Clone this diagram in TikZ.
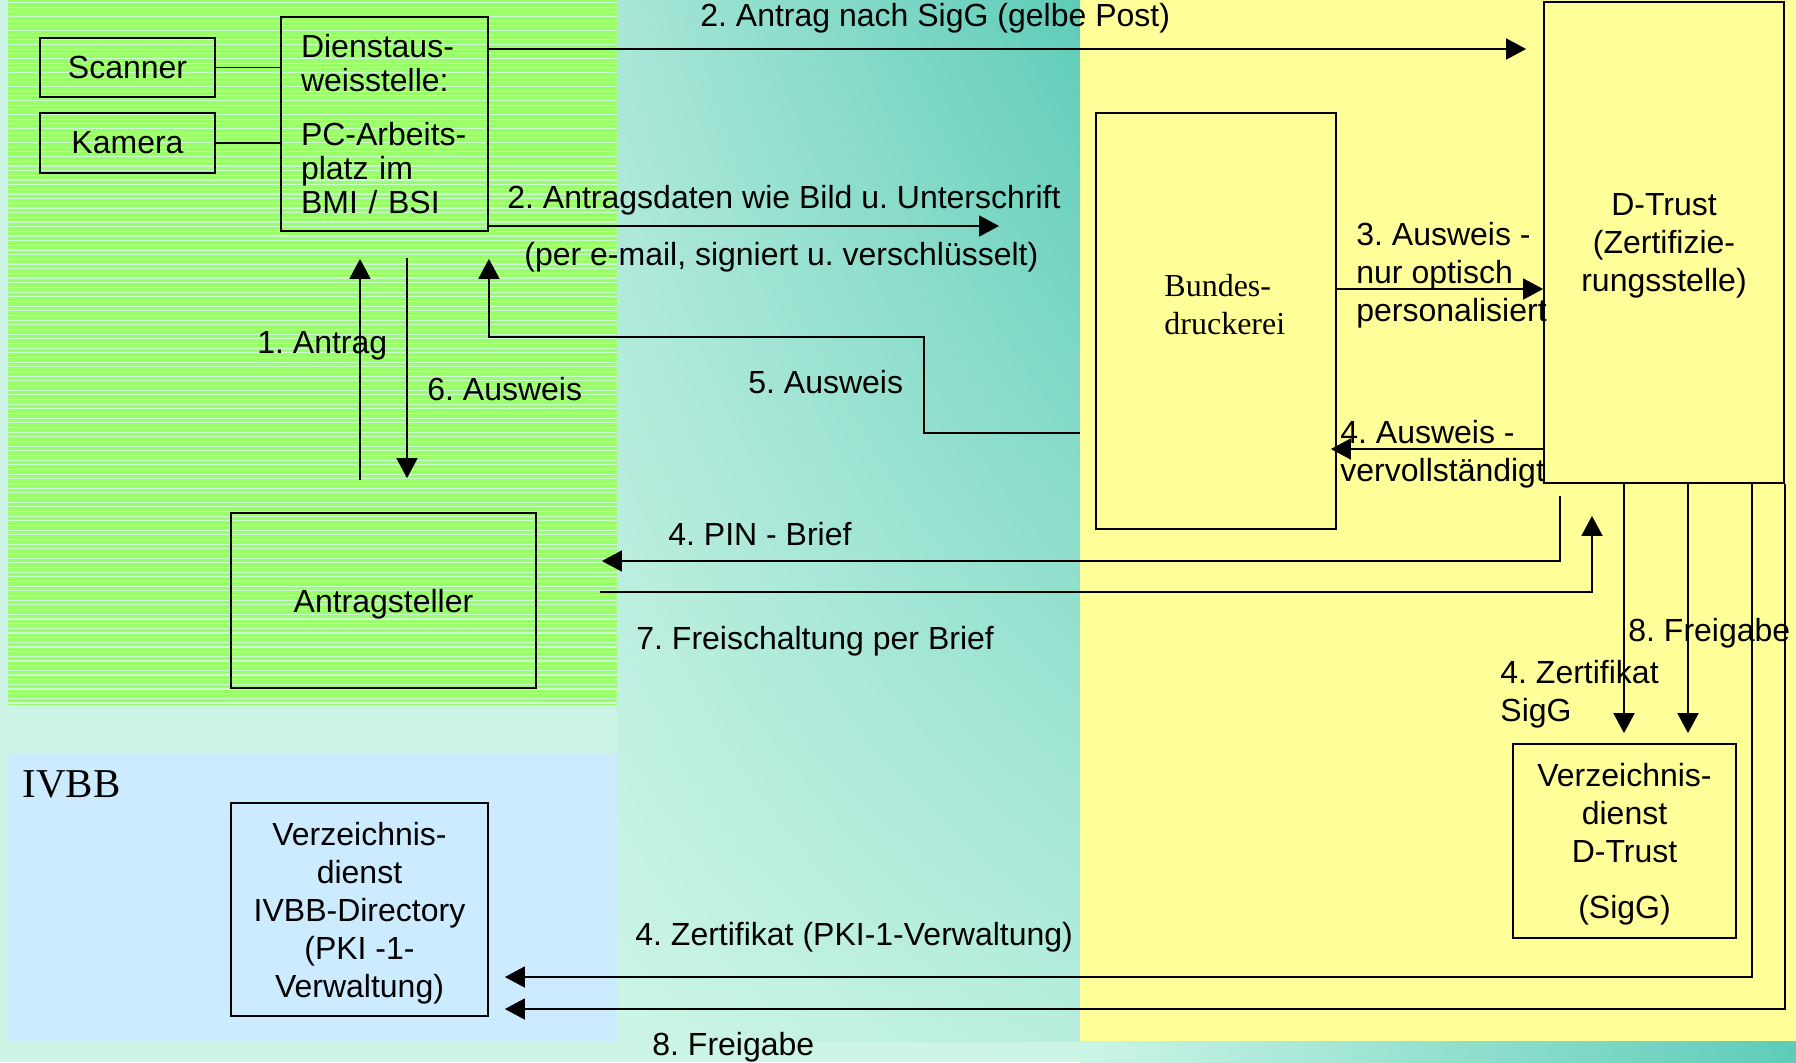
\documentclass[tikz,border=0pt]{standalone}
\usepackage{fontspec}
\setmainfont{Liberation Sans}
\newfontfamily\timesfont{Liberation Serif}
\usetikzlibrary{arrows.meta, shadings}
\frenchspacing
\definecolor{mint}{HTML}{CCF5E6}
\definecolor{tealbg}{HTML}{5ECCB8}
\definecolor{tealtop}{HTML}{A8E6D6}
\definecolor{tealbot}{HTML}{B8EEDE}
\definecolor{greenbg}{HTML}{99FF66}
\definecolor{stripe}{HTML}{CCF8D6}
\definecolor{yellowbg}{HTML}{FFFF99}
\definecolor{bluebg}{HTML}{CCEBFF}
\tikzstyle{line} = [draw, line width=0.9pt, -{Triangle[length=10pt,width=10.5pt]}]
\tikzstyle{plain} = [draw, line width=0.9pt]
\tikzstyle{block} = [draw, rectangle, line width=0.9pt, inner sep=0pt]
\tikzstyle{lbl} = [inner sep=0pt, anchor=base west]
\tikzstyle{lbls} = [inner sep=0pt, anchor=west, align=left]

\begin{document}
\begin{tikzpicture}[x=0.5pt, y=-0.5pt, every node/.style={font=\fontsize{16}{19}\selectfont}]
		\useasboundingbox (0,0) rectangle (1796,1062);
		\fill[mint] (0,0) rectangle (1796,1062);
		\shade[upper left=tealtop, upper right=tealbg, lower left=mint, lower right=tealbot] (617,0) rectangle (1080,1041);
		\shade[left color=mint, right color=tealbg] (1080,1041) rectangle (1796,1062);
		\fill[greenbg] (8,0) rectangle (617,705);
		\foreach \y in {2.5,7.17,...,704} \draw[stripe, line width=0.55pt] (8,\y) -- (617,\y);
		\fill[bluebg] (8,753) rectangle (617,1041);
		\fill[yellowbg] (1080,0) rectangle (1796,1041);

		\node[block, minimum width=87.5pt, minimum height=29.5pt] (Scan) at (127.5,67.5) {Scanner};
		\node[block, minimum width=87.5pt, minimum height=30pt] (Kam) at (127.5,143) {Kamera};
		\node[block, minimum width=103.5pt, minimum height=107pt, text width=83.5pt, inner xsep=10pt, align=left, font=\fontsize{16}{17}\selectfont] (DA) at (384.5,124) {Dienstaus-\\weisstelle:\\[10pt]PC-Arbeits-\\platz im\\BMI / BSI};
		\node[block, minimum width=152.5pt, minimum height=87.5pt, text depth=0pt] (AS) at (383.5,600.5) {Antragsteller};
		\node[block, minimum width=120pt, minimum height=208pt] (BD) at (1216,321) {};
		\node[lbls, font=\timesfont\fontsize{16}{19}\selectfont] (BDtxt) at (1164,305) {Bundes-\\druckerei};
		\node[block, minimum width=120pt, minimum height=240.5pt, align=center, text depth=0pt] (DT) at (1664,242.5) {D-Trust\\(Zertifizie-\\rungsstelle)};
		\node[block, minimum width=111.5pt, minimum height=97pt, align=center, text depth=0pt] (VT) at (1624.5,841) {Verzeichnis-\\dienst\\D-Trust\\[9pt](SigG)};
		\node[block, minimum width=128.5pt, minimum height=106.5pt, align=center, text depth=0pt] (VI) at (359.5,909.5) {Verzeichnis-\\dienst\\IVBB-Directory\\(PKI -1-\\Verwaltung)};
		\node[lbl, font=\timesfont\fontsize{20.5}{24}\selectfont] (IVBB) at (22,797) {IVBB};

		\draw[plain] (Scan.east) -- (DA.west |- Scan.east);
		\draw[plain] (Kam.east) -- (DA.west |- Kam.east);
		\draw[line, shorten >=8.5pt] (DA.east |- 0,49) -- (DT.west |- 0,49);
		\coordinate (mail) at (999,226);
		\draw[line] (DA.east |- mail) -- (mail);
		\draw[line, shorten <=16pt, shorten >=13.5pt] (AS.north -| 360,0) -- (DA.south -| 360,0);
		\draw[line, shorten <=13pt, shorten >=17pt] (DA.south -| 407,0) -- (AS.north -| 407,0);
		\coordinate (back) at (1080,433);
		\draw[line, shorten >=13.5pt] (back) -| (924,337) -| (DA.south east);
		\draw[line] (BD.east |- 0,289) -- (DT.west |- 0,289);
		\draw[line, shorten >=-3pt] (DT.west |- 0,449) -- (BD.east |- 0,449);
		\coordinate (pin) at (1560,496);
		\draw[line, shorten >=32.5pt] (pin) |- (AS.east |- 0,561);
		\draw[line, shorten <=31.5pt, shorten >=16pt] (AS.east |- 0,592) -| (DT.south -| 1592,0);
		\draw[line, shorten >=5pt] (DT.south -| 1624,0) -- (VT.north -| 1624,0);
		\draw[line, shorten >=5pt] (DT.south -| 1688,0) -- (VT.north -| 1688,0);
		\draw[line, shorten >=8pt] (DT.south -| 1752,0) |- (VI.east |- 0,977);
		\draw[line, shorten >=8pt] (DT.south east) |- (VI.east |- 0,1009);

		\node[lbl] (l2a) at (700,26) {2. Antrag nach SigG (gelbe Post)};
		\node[lbl] (l2b) at (507,208) {2. Antragsdaten wie Bild u. Unterschrift};
		\node[lbl] (l2c) at (524,265) {(per e-mail, signiert u. verschlüsselt)};
		\node[lbl] (l1) at (257,353) {1. Antrag};
		\node[lbl] (l6) at (427,400) {6. Ausweis};
		\node[lbl] (l5) at (748,393) {5. Ausweis};
		\node[lbls] (l3) at (1356,275) {3. Ausweis -\\nur optisch\\personalisiert};
		\node[lbls] (l4a) at (1340,454) {4. Ausweis -\\vervollständigt};
		\node[lbl] (l4p) at (668,545) {4. PIN - Brief};
		\node[lbl] (l7) at (636,649) {7. Freischaltung per Brief};
		\node[lbl] (l8a) at (1628,641) {8. Freigabe};
		\node[lbls] (l4z) at (1500,694) {4. Zertifikat\\SigG};
		\node[lbl] (l4v) at (635,945) {4. Zertifikat (PKI-1-Verwaltung)};
		\node[lbl] (l8b) at (652,1055) {8. Freigabe};
	\end{tikzpicture}
\end{document}
